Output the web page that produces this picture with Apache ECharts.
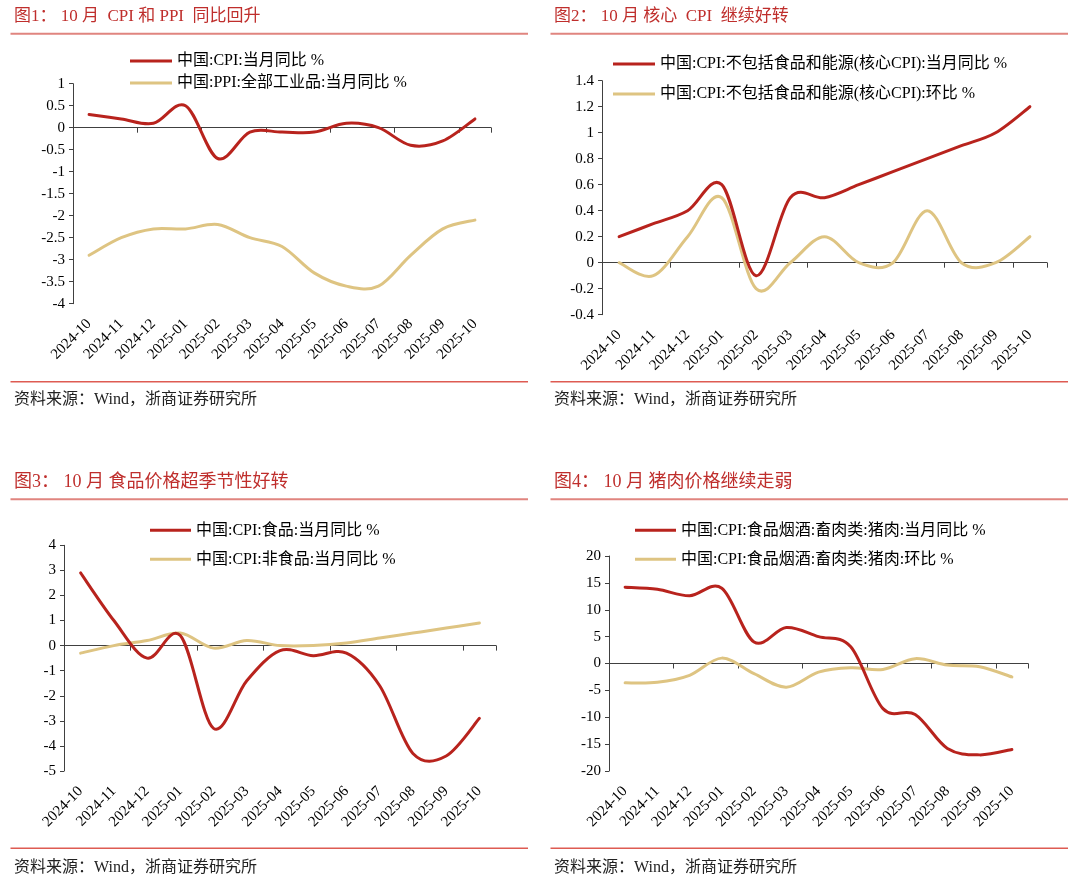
<!DOCTYPE html>
<html>
<head>
<meta charset="utf-8">
<script src="https://cdn.jsdelivr.net/npm/echarts@6/dist/echarts.min.js"></script>
<style>
html,body{margin:0;padding:0;background:#fff;}
#chart{width:1080px;height:882px;}
</style>
</head>
<body>
<div id="chart"></div>
<script>
// ---------------- data ----------------
const months = ['2024-10','2024-11','2024-12','2025-01','2025-02','2025-03','2025-04','2025-05','2025-06','2025-07','2025-08','2025-09','2025-10'];

const cpiYoY     = [0.3, 0.2, 0.1, 0.5, -0.7, -0.1, -0.1, -0.1, 0.1, 0.0, -0.4, -0.3, 0.2];
const ppiYoY     = [-2.9, -2.5, -2.3, -2.3, -2.2, -2.5, -2.7, -3.3, -3.6, -3.6, -2.9, -2.3, -2.1];

const coreYoY    = [0.2, 0.3, 0.4, 0.6, -0.1, 0.5, 0.5, 0.6, 0.7, 0.8, 0.9, 1.0, 1.2];
const coreMoM    = [0.0, -0.1, 0.2, 0.5, -0.2, 0.0, 0.2, 0.0, 0.0, 0.4, 0.0, 0.0, 0.2];

const foodYoY    = [2.9, 1.0, -0.5, 0.4, -3.3, -1.4, -0.2, -0.4, -0.3, -1.6, -4.3, -4.4, -2.9];
const nonFoodYoY = [-0.3, 0.0, 0.2, 0.5, -0.1, 0.2, 0.0, 0.0, 0.1, 0.3, 0.5, 0.7, 0.9];

const porkYoY    = [14.2, 13.8, 12.6, 14.0, 4.0, 6.7, 5.0, 3.1, -8.4, -9.5, -15.8, -17.0, -16.0];
const porkMoM    = [-3.6, -3.5, -2.2, 1.0, -1.9, -4.4, -1.6, -0.8, -1.1, 0.9, -0.3, -0.6, -2.5];

const titles = [
  '图1： 10 月  CPI 和 PPI  同比回升',
  '图2： 10 月 核心  CPI  继续好转',
  '图3： 10 月 食品价格超季节性好转',
  '图4： 10 月 猪肉价格继续走弱'
];
const sourceText = '资料来源：Wind，浙商证券研究所';

const seriesNames = [
  ['中国:CPI:当月同比 %', '中国:PPI:全部工业品:当月同比 %'],
  ['中国:CPI:不包括食品和能源(核心CPI):当月同比 %', '中国:CPI:不包括食品和能源(核心CPI):环比 %'],
  ['中国:CPI:食品:当月同比 %', '中国:CPI:非食品:当月同比 %'],
  ['中国:CPI:食品烟酒:畜肉类:猪肉:当月同比 %', '中国:CPI:食品烟酒:畜肉类:猪肉:环比 %']
];
const seriesData = [
  [cpiYoY, ppiYoY],
  [coreYoY, coreMoM],
  [foodYoY, nonFoodYoY],
  [porkYoY, porkMoM]
];
const yRanges = [
  {min: -4, max: 1, interval: 0.5},
  {min: -0.4, max: 1.4, interval: 0.2},
  {min: -5, max: 4, interval: 1},
  {min: -20, max: 20, interval: 5}
];

// ---------------- layout / style ----------------
const FONT = '"Liberation Serif", "Times New Roman", "Noto Sans CJK SC", serif';
const RED = '#B8231D';
const TAN = '#DEC482';
const AXIS = '#404040';
const titleSizes = [17, 17, 18, 18];

const grids = [
  {left: 73,  top: 83.7,  width: 418, height: 220},
  {left: 602, top: 80.7,  width: 445, height: 234},
  {left: 64,  top: 545.3, width: 432, height: 225.7},
  {left: 609, top: 556,   width: 419, height: 215}
];
const legends = [
  {left: 130, top: 52,    itemGap: 4,  itemWidth: 42},
  {left: 613, top: 55,    itemGap: 12, itemWidth: 42},
  {left: 150, top: 521.3, itemGap: 11, itemWidth: 41},
  {left: 635, top: 521.3, itemGap: 11, itemWidth: 41}
];
const panelOrigins = [
  {x: 0,   y: 0},
  {x: 540, y: 0},
  {x: 0,   y: 465.5},
  {x: 540, y: 465.5}
];

// Smooth curve (Catmull-Rom style Bezier) through the points placed by the axes' scales
function smoothRenderer(values, color) {
  return function (params, api) {
    if (params.dataIndex !== 0) return null;
    const pts = values.map((v, j) => api.coord([j, v]));
    const n = pts.length;
    let d = 'M' + pts[0][0] + ' ' + pts[0][1];
    for (let j = 0; j < n - 1; j++) {
      const p0 = pts[Math.max(j - 1, 0)], p1 = pts[j], p2 = pts[j + 1], p3 = pts[Math.min(j + 2, n - 1)];
      const c1x = p1[0] + (p2[0] - p0[0]) / 6, c1y = p1[1] + (p2[1] - p0[1]) / 6;
      const c2x = p2[0] - (p3[0] - p1[0]) / 6, c2y = p2[1] - (p3[1] - p1[1]) / 6;
      d += ' C' + c1x + ' ' + c1y + ' ' + c2x + ' ' + c2y + ' ' + p2[0] + ' ' + p2[1];
    }
    return {
      type: 'path',
      shape: {pathData: d},
      style: {stroke: color, lineWidth: 3, fill: 'none', lineJoin: 'round', lineCap: 'round'}
    };
  };
}

const option = {
  animation: false,
  backgroundColor: '#fff',
  grid: [], xAxis: [], yAxis: [], series: [], legend: [], graphic: []
};

for (let i = 0; i < 4; i++) {
  option.grid.push(Object.assign({containLabel: false}, grids[i]));
  option.xAxis.push({
    type: 'category', gridIndex: i, data: months, boundaryGap: true, position: 'bottom',
    axisLine: {show: true, onZero: true, lineStyle: {color: AXIS, width: 1}},
    axisTick: {show: true, length: 5, lineStyle: {color: AXIS, width: 1}},
    axisLabel: {show: false}, splitLine: {show: false}
  });
  option.xAxis.push({
    type: 'category', gridIndex: i, data: months, boundaryGap: true, position: 'bottom',
    axisLine: {show: false, onZero: false}, axisTick: {show: false}, splitLine: {show: false},
    axisLabel: {show: true, interval: 0, rotate: 45, margin: 18, fontSize: 15, fontFamily: FONT, color: '#000'}
  });
  option.yAxis.push(Object.assign({
    type: 'value', gridIndex: i,
    axisLine: {show: true, lineStyle: {color: AXIS, width: 1}},
    axisTick: {show: true, length: 4, lineStyle: {color: AXIS, width: 1}},
    splitLine: {show: false},
    axisLabel: {fontSize: 15, fontFamily: FONT, color: '#000', margin: 8}
  }, yRanges[i]));

  const cols = [RED, TAN];
  [1, 0].forEach(function (k) {
    const vals = seriesData[i][k];
    option.series.push({
      name: seriesNames[i][k], type: 'custom', coordinateSystem: 'cartesian2d',
      xAxisIndex: 2 * i, yAxisIndex: i,
      data: vals.map((v, j) => [j, v]),
      encode: {x: 0, y: 1},
      renderItem: smoothRenderer(vals, cols[k]),
      itemStyle: {color: cols[k]}, color: cols[k],
      z: k === 0 ? 3 : 2, silent: true
    });
  });

  option.legend.push({
    orient: 'vertical', left: legends[i].left, top: legends[i].top, padding: 0,
    itemGap: legends[i].itemGap, itemWidth: legends[i].itemWidth, itemHeight: 3,
    icon: 'rect', selectedMode: false,
    data: [seriesNames[i][0], seriesNames[i][1]],
    textStyle: {fontSize: 16, lineHeight: 18, fontFamily: FONT, color: '#000'}
  });

  const o = panelOrigins[i];
  option.graphic.push({
    type: 'text', x: o.x + 14, y: o.y + 16.7,
    style: {text: titles[i], fontSize: titleSizes[i], fontFamily: FONT, fill: '#BF2E2C',
            verticalAlign: 'middle', textVerticalAlign: 'middle'}
  });
  option.graphic.push({
    type: 'line', shape: {x1: o.x + 10.5, y1: o.y + 33.7, x2: o.x + 528, y2: o.y + 33.7},
    style: {stroke: '#E0857F', lineWidth: 2}
  });
  const by = i < 2 ? 381.7 : 848.3;
  option.graphic.push({
    type: 'line', shape: {x1: o.x + 10.5, y1: by, x2: o.x + 528, y2: by},
    style: {stroke: '#DE5B52', lineWidth: 1.5}
  });
  option.graphic.push({
    type: 'text', x: o.x + 14, y: i < 2 ? 400 : 867.3,
    style: {text: sourceText, fontSize: 16, fontFamily: FONT, fill: '#222',
            verticalAlign: 'middle', textVerticalAlign: 'middle'}
  });
}

const chart = echarts.init(document.getElementById('chart'), null, {renderer: 'canvas'});
chart.setOption(option);
</script>
</body>
</html>
